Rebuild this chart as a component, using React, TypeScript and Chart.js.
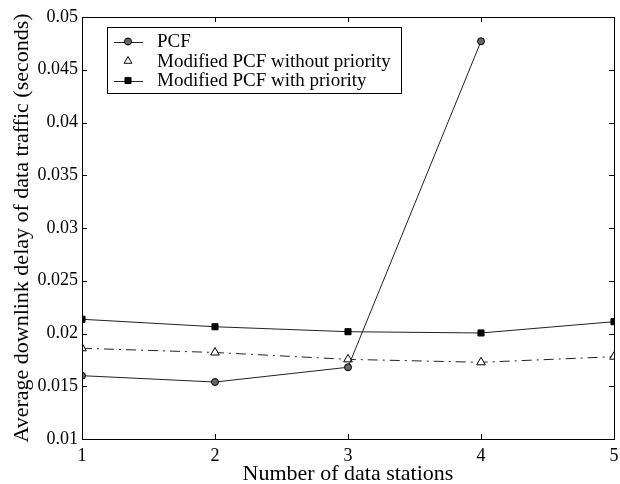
import React, { useEffect, useRef } from 'react';
import { Chart, registerables } from 'chart.js';

Chart.register(...registerables);

// ---- data ----
const stations = [1, 2, 3, 4, 5];
const pcfStations = [1, 2, 3, 4];
const pcfDelay = [0.016, 0.0154, 0.0168, 0.0477];
const modNoPriorityDelay = [0.0186, 0.0182, 0.01755, 0.01727, 0.0178];
const modPriorityDelay = [0.02135, 0.02064, 0.02017, 0.02005, 0.02112];
const yTickValues = [0.01, 0.015, 0.02, 0.025, 0.03, 0.035, 0.04, 0.045, 0.05];
const xTickValues = [1, 2, 3, 4, 5];
const seriesLabels = ['PCF', 'Modified PCF without priority', 'Modified PCF with priority'];
const xTitle = 'Number of data stations';
const yTitle = 'Average downlink delay of data traffic (seconds)';

const FONT = '"Liberation Serif", "Times New Roman", Times, serif';

type Marker = 'circle' | 'triangle' | 'rect';

function drawMarker(ctx: CanvasRenderingContext2D, kind: Marker, x: number, y: number) {
  ctx.save();
  ctx.lineWidth = 1;
  ctx.strokeStyle = '#000';
  ctx.setLineDash([]);
  ctx.beginPath();
  if (kind === 'circle') {
    ctx.fillStyle = '#666';
    ctx.arc(x, y, 3.5, 0, Math.PI * 2);
  } else if (kind === 'triangle') {
    ctx.fillStyle = '#fff';
    const r = 4.5;
    ctx.moveTo(x, y - r);
    ctx.lineTo(x + r * 0.866, y + r * 0.5);
    ctx.lineTo(x - r * 0.866, y + r * 0.5);
    ctx.closePath();
  } else {
    ctx.fillStyle = '#000';
    ctx.rect(x - 3, y - 3, 6, 6);
  }
  ctx.fill();
  ctx.stroke();
  ctx.restore();
}

const framePlugin = {
  id: 'frame',
  afterDraw(chart: any) {
    const { ctx, chartArea, scales } = chart;
    const { left, right, top, bottom } = chartArea;
    const xs = scales.x;
    const ys = scales.y;
    ctx.save();
    ctx.strokeStyle = '#000';
    ctx.lineWidth = 1;
    ctx.setLineDash([]);
    ctx.strokeRect(Math.round(left) + 0.5, Math.round(top) + 0.5, Math.round(right - left), Math.round(bottom - top));
    const tl = 5;
    ctx.beginPath();
    yTickValues.forEach((v) => {
      const py = Math.round(ys.getPixelForValue(v)) + 0.5;
      ctx.moveTo(left, py);
      ctx.lineTo(left + tl, py);
      ctx.moveTo(right, py);
      ctx.lineTo(right - tl, py);
    });
    xTickValues.forEach((v) => {
      const px = Math.round(xs.getPixelForValue(v)) + 0.5;
      ctx.moveTo(px, bottom);
      ctx.lineTo(px, bottom - tl);
      ctx.moveTo(px, top);
      ctx.lineTo(px, top + tl);
    });
    ctx.stroke();

    // legend
    const bx = left + 25;
    const by = top + 10;
    const bw = 294;
    const bh = 66;
    ctx.fillStyle = '#fff';
    ctx.fillRect(bx, by, bw, bh);
    ctx.strokeStyle = '#000';
    ctx.strokeRect(Math.round(bx) + 0.5, Math.round(by) + 0.5, bw, bh);
    const markers: Marker[] = ['circle', 'triangle', 'rect'];
    const showLine = [true, false, true];
    ctx.font = `19px ${FONT}`;
    ctx.textBaseline = 'middle';
    ctx.textAlign = 'left';
    chart.data.datasets.forEach((ds: any, i: number) => {
      const ry = by + 14.5 + i * 19.5;
      const mx = bx + 21;
      if (showLine[i]) {
        ctx.beginPath();
        ctx.strokeStyle = '#222';
        ctx.moveTo(bx + 7, Math.round(ry) + 0.5);
        ctx.lineTo(bx + 36, Math.round(ry) + 0.5);
        ctx.stroke();
      }
      drawMarker(ctx, markers[i], mx, ry);
      ctx.fillStyle = '#000';
      ctx.fillText(ds.label, bx + 50, ry + 1);
    });
    ctx.restore();
  },
};

export default function App() {
  const ref = useRef<HTMLCanvasElement | null>(null);
  useEffect(() => {
    if (!ref.current) return;
    const common = {
      borderColor: '#222',
      borderWidth: 1,
      pointBorderColor: '#000',
      pointBorderWidth: 1,
      tension: 0,
      fill: false,
    };
    const chart = new Chart(ref.current, {
      type: 'line',
      data: {
        datasets: [
          {
            ...common,
            label: seriesLabels[0],
            data: pcfStations.map((x, i) => ({ x, y: pcfDelay[i] })),
            pointStyle: 'circle',
            pointRadius: 3.5,
            pointBackgroundColor: '#666',
          },
          {
            ...common,
            label: seriesLabels[1],
            data: stations.map((x, i) => ({ x, y: modNoPriorityDelay[i] })),
            pointStyle: 'triangle',
            pointRadius: 5,
            pointBackgroundColor: '#fff',
            borderDash: [10, 5, 2, 5],
          },
          {
            ...common,
            label: seriesLabels[2],
            data: stations.map((x, i) => ({ x, y: modPriorityDelay[i] })),
            pointStyle: 'rect',
            pointRadius: 4.3,
            pointBackgroundColor: '#000',
          },
        ],
      },
      options: {
        animation: false,
        responsive: false,
        devicePixelRatio: 1,
        layout: { padding: { top: 17, right: 4, left: 0, bottom: 0 } },
        plugins: { legend: { display: false }, tooltip: { enabled: false } },
        scales: {
          x: {
            type: 'linear',
            min: 1,
            max: 5,
            afterBuildTicks: (s: any) => {
              s.ticks = xTickValues.map((v) => ({ value: v }));
            },
            afterFit: (s: any) => {
              s.height = 45;
              s.paddingLeft = 0;
              s.paddingRight = 0;
            },
            ticks: {
              color: '#000',
              font: { family: FONT, size: 18 },
              padding: 6,
              maxRotation: 0,
              callback: (v: any) => String(v),
            },
            grid: { display: false, drawTicks: false },
            border: { display: false },
            title: {
              display: true,
              text: xTitle,
              color: '#000',
              font: { family: FONT, size: 22, lineHeight: 0.8 },
              padding: { top: 0, bottom: 1 },
            },
          },
          y: {
            type: 'linear',
            min: 0.01,
            max: 0.05,
            afterBuildTicks: (s: any) => {
              s.ticks = yTickValues.map((v) => ({ value: v }));
            },
            afterFit: (s: any) => {
              s.width = 82;
              s.paddingTop = 0;
              s.paddingBottom = 0;
            },
            ticks: {
              color: '#000',
              font: { family: FONT, size: 18 },
              padding: 4,
              callback: (v: any) => String(Number(Number(v).toFixed(4))),
            },
            grid: { display: false, drawTicks: false },
            border: { display: false },
            title: {
              display: true,
              text: yTitle,
              color: '#000',
              font: { family: FONT, size: 22 },
              padding: { top: 9, bottom: 0 },
            },
          },
        },
      },
      plugins: [framePlugin],
    } as any);
    return () => chart.destroy();
  }, []);
  return (
    <div style={{ position: 'absolute', left: 0, top: 0, width: 620, height: 484, background: '#fff' }}>
      <canvas ref={ref} width={620} height={484} />
    </div>
  );
}
